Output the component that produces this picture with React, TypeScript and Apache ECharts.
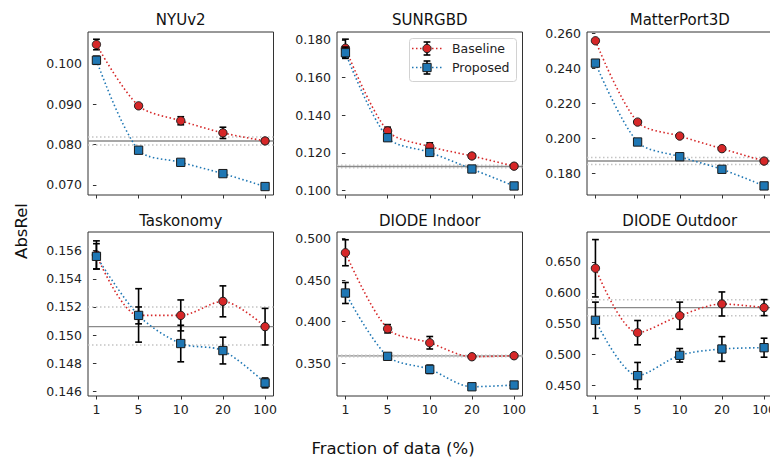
import React, { useEffect, useRef } from "react";
import * as echarts from "echarts";

const FONT = '"DejaVu Sans", sans-serif';

// ---------- data ----------
const fractionLabels = ["1", "5", "10", "20", "100"];
const datasetNames = ["NYUv2", "SUNRGBD", "MatterPort3D", "Taskonomy", "DIODE Indoor", "DIODE Outdoor"];

const nyuBaseline = [0.1048, 0.0896, 0.0859, 0.0829, 0.0809];
const nyuBaselineErr = [0.0013, 0.0005, 0.001, 0.0014, 0.0005];
const nyuProposed = [0.1009, 0.0786, 0.0756, 0.0728, 0.0696];
const nyuProposedErr = [0.001, 0.0004, 0.0004, 0.0004, 0.0004];
const nyuRef = [0.0809, 0.0799, 0.0819]; // mean, low, high
const nyuTicks = [0.07, 0.08, 0.09, 0.1];

const sunBaseline = [0.1756, 0.1317, 0.1234, 0.1184, 0.113];
const sunBaselineErr = [0.0048, 0.002, 0.002, 0.0012, 0.001];
const sunProposed = [0.1732, 0.1281, 0.1203, 0.1115, 0.1025];
const sunProposedErr = [0.003, 0.0015, 0.0015, 0.001, 0.001];
const sunRef = [0.1128, 0.1121, 0.1135];
const sunTicks = [0.1, 0.12, 0.14, 0.16, 0.18];

const mpBaseline = [0.256, 0.2095, 0.2015, 0.1943, 0.1872];
const mpBaselineErr = [0.001, 0.001, 0.001, 0.001, 0.0008];
const mpProposed = [0.2432, 0.1981, 0.1897, 0.1825, 0.173];
const mpProposedErr = [0.001, 0.001, 0.001, 0.001, 0.0008];
const mpRef = [0.1872, 0.1853, 0.1893];
const mpTicks = [0.18, 0.2, 0.22, 0.24, 0.26];

const taskBaseline = [0.1557, 0.1514, 0.1514, 0.1524, 0.1506];
const taskBaselineErr = [0.001, 0.0006, 0.0011, 0.0011, 0.0013];
const taskProposed = [0.1556, 0.1514, 0.1494, 0.1489, 0.1466];
const taskProposedErr = [0.0009, 0.0019, 0.0013, 0.00095, 0.00035];
const taskRef = [0.1506, 0.1493, 0.152];
const taskTicks = [0.146, 0.148, 0.15, 0.152, 0.154, 0.156];

const indoorBaseline = [0.4827, 0.3915, 0.3747, 0.3579, 0.3591];
const indoorBaselineErr = [0.0156, 0.005, 0.0075, 0.002, 0.002];
const indoorProposed = [0.4344, 0.3584, 0.3428, 0.3219, 0.324];
const indoorProposedErr = [0.0126, 0.002, 0.005, 0.002, 0.002];
const indoorRef = [0.3589, 0.358, 0.3598];
const indoorTicks = [0.35, 0.4, 0.45, 0.5];

const outdoorBaseline = [0.6398, 0.5354, 0.5629, 0.5819, 0.576];
const outdoorBaselineErr = [0.0465, 0.0197, 0.022, 0.0195, 0.013];
const outdoorProposed = [0.5554, 0.4657, 0.4987, 0.5089, 0.511];
const outdoorProposedErr = [0.0295, 0.0214, 0.011, 0.02, 0.0154];
const outdoorRef = [0.576, 0.5629, 0.5889];
const outdoorTicks = [0.45, 0.5, 0.55, 0.6, 0.65];

const yRanges = [
  [0.0675, 0.1079],
  [0.0977, 0.1842],
  [0.1678, 0.261],
  [0.14567, 0.15733],
  [0.3108, 0.5076],
  [0.4327, 0.6986],
];

const panels = [
  { base: nyuBaseline, baseErr: nyuBaselineErr, prop: nyuProposed, propErr: nyuProposedErr, ref: nyuRef, ticks: nyuTicks },
  { base: sunBaseline, baseErr: sunBaselineErr, prop: sunProposed, propErr: sunProposedErr, ref: sunRef, ticks: sunTicks },
  { base: mpBaseline, baseErr: mpBaselineErr, prop: mpProposed, propErr: mpProposedErr, ref: mpRef, ticks: mpTicks },
  { base: taskBaseline, baseErr: taskBaselineErr, prop: taskProposed, propErr: taskProposedErr, ref: taskRef, ticks: taskTicks },
  { base: indoorBaseline, baseErr: indoorBaselineErr, prop: indoorProposed, propErr: indoorProposedErr, ref: indoorRef, ticks: indoorTicks },
  { base: outdoorBaseline, baseErr: outdoorBaselineErr, prop: outdoorProposed, propErr: outdoorProposedErr, ref: outdoorRef, ticks: outdoorTicks },
];

// ---------- style / layout ----------
const RED = "#d62728";
const BLUE = "#1f77b4";
const colLeft = [88, 337, 587];
const rowTop = [32, 232];
const rowHeight = [163, 164];
const panelWidth = 185.5;
const DOT = [1.5, 2.5];

function errRender(params: any, api: any) {
  const x = api.value(0);
  const y = api.value(1);
  const e = api.value(2);
  const p1 = api.coord([x, y + e]);
  const p2 = api.coord([x, y - e]);
  const style = { stroke: "#000", lineWidth: 1.6 };
  const c = 3.4;
  return {
    type: "group",
    children: [
      { type: "line", shape: { x1: p1[0], y1: p1[1], x2: p2[0], y2: p2[1] }, style },
      { type: "line", shape: { x1: p1[0] - c, y1: p1[1], x2: p1[0] + c, y2: p1[1] }, style },
      { type: "line", shape: { x1: p2[0] - c, y1: p2[1], x2: p2[0] + c, y2: p2[1] }, style },
    ],
  };
}

function buildOption() {
  const grid: any[] = [];
  const xAxis: any[] = [];
  const yAxis: any[] = [];
  const series: any[] = [];
  const graphic: any[] = [];
  const idx = [0, 1, 2, 3, 4];

  panels.forEach((p, i) => {
    const row = Math.floor(i / 3);
    const col = i % 3;
    const left = colLeft[col];
    const top = rowTop[row];
    grid.push({
      left,
      top,
      width: panelWidth,
      height: rowHeight[row],
      show: true,
      borderColor: "#333",
      borderWidth: 1,
      backgroundColor: "transparent",
      containLabel: false,
      outerBoundsMode: "none",
    });
    xAxis.push({
      type: "value",
      gridIndex: i,
      min: -0.2,
      max: 4.2,
      axisLine: { show: false },
      splitLine: { show: false },
      axisTick: { show: true, customValues: idx, length: 3.5, lineStyle: { color: "#333", width: 1 } },
      axisLabel: {
        show: row === 1,
        customValues: idx,
        formatter: (v: number) => fractionLabels[Math.round(v)],
        fontSize: 12.5,
        fontFamily: FONT,
        color: "#222",
        margin: 7,
      },
    });
    yAxis.push({
      type: "value",
      gridIndex: i,
      min: yRanges[i][0],
      max: yRanges[i][1],
      axisLine: { show: false },
      splitLine: { show: false },
      axisTick: { show: true, customValues: p.ticks, length: 3.5, lineStyle: { color: "#333", width: 1 } },
      axisLabel: {
        customValues: p.ticks,
        formatter: (v: number) => v.toFixed(3),
        fontSize: 12.5,
        fontFamily: FONT,
        color: "#222",
        margin: 6,
      },
    });

    // reference lines
    const refStyles = [
      { color: "#8a8a8a", width: 1.4, type: "solid" },
      { color: "#c4c4c4", width: 1.5, type: DOT },
      { color: "#c4c4c4", width: 1.5, type: DOT },
    ];
    p.ref.forEach((v, k) => {
      series.push({
        type: "line",
        xAxisIndex: i,
        yAxisIndex: i,
        data: [[-0.2, v], [4.2, v]],
        symbol: "none",
        silent: true,
        z: 1,
        lineStyle: refStyles[k],
      });
    });

    const addSeries = (vals: number[], errs: number[], color: string, symbol: string, name: string, z: number) => {
      series.push({
        type: "custom",
        name,
        xAxisIndex: i,
        yAxisIndex: i,
        data: vals.map((v, k) => [k, v, errs[k]]),
        encode: { x: 0, y: 1 },
        renderItem: errRender,
        silent: true,
        z,
      });
      series.push({
        type: "line",
        name,
        xAxisIndex: i,
        yAxisIndex: i,
        data: vals.map((v, k) => [k, v]),
        smooth: 0.3,
        symbol,
        symbolSize: 8.3,
        showSymbol: true,
        silent: true,
        z: z + 1,
        lineStyle: { color, width: 1.6, type: DOT },
        itemStyle: { color, borderColor: "#1a1a1a", borderWidth: 1 },
      });
    };
    addSeries(p.base, p.baseErr, RED, "circle", "Baseline", 3);
    addSeries(p.prop, p.propErr, BLUE, "rect", "Proposed", 5);

    // panel title
    graphic.push({
      type: "text",
      x: left + panelWidth / 2,
      y: row === 0 ? 20 : 221,
      style: {
        text: datasetNames[i],
        fontSize: 15,
        fontFamily: FONT,
        fill: "#111",
        align: "center",
        verticalAlign: "middle",
      },
    });
  });

  // shared axis labels
  graphic.push({
    type: "text",
    x: 393,
    y: 448,
    style: {
      text: "Fraction of data (%)",
      fontSize: 16.5,
      fontFamily: FONT,
      fill: "#111",
      align: "center",
      verticalAlign: "middle",
    },
  });
  graphic.push({
    type: "text",
    x: 21,
    y: 231,
    rotation: Math.PI / 2,
    style: {
      text: "AbsRel",
      fontSize: 16.5,
      fontFamily: FONT,
      fill: "#111",
      align: "center",
      verticalAlign: "middle",
    },
  });

  // legend (in SUNRGBD panel)
  const legendItems = [
    { label: "Baseline", color: RED, shape: "circle", y: 48.5 },
    { label: "Proposed", color: BLUE, shape: "rect", y: 67.5 },
  ];
  const lg: any[] = [
    {
      type: "rect",
      shape: { x: 409.5, y: 38.5, width: 107, height: 43, r: 3 },
      style: { fill: "rgba(255,255,255,0.85)", stroke: "#d2d2d2", lineWidth: 1 },
    },
  ];
  legendItems.forEach((it) => {
    const cx = 427;
    const cy = it.y;
    lg.push({
      type: "line",
      shape: { x1: 412, y1: cy, x2: 442, y2: cy },
      style: { stroke: it.color, lineWidth: 1.6, lineDash: DOT },
    });
    const es = { stroke: "#000", lineWidth: 1.6 };
    lg.push({ type: "line", shape: { x1: cx, y1: cy - 6.5, x2: cx, y2: cy + 6.5 }, style: es });
    lg.push({ type: "line", shape: { x1: cx - 3.4, y1: cy - 6.5, x2: cx + 3.4, y2: cy - 6.5 }, style: es });
    lg.push({ type: "line", shape: { x1: cx - 3.4, y1: cy + 6.5, x2: cx + 3.4, y2: cy + 6.5 }, style: es });
    if (it.shape === "circle") {
      lg.push({
        type: "circle",
        shape: { cx, cy, r: 4.15 },
        style: { fill: it.color, stroke: "#1a1a1a", lineWidth: 1 },
      });
    } else {
      lg.push({
        type: "rect",
        shape: { x: cx - 4.15, y: cy - 4.15, width: 8.3, height: 8.3 },
        style: { fill: it.color, stroke: "#1a1a1a", lineWidth: 1 },
      });
    }
    lg.push({
      type: "text",
      x: 452,
      y: cy,
      style: {
        text: it.label,
        fontSize: 12.5,
        fontFamily: FONT,
        fill: "#222",
        align: "left",
        verticalAlign: "middle",
      },
    });
  });
  graphic.push({ type: "group", z: 100, children: lg });

  return {
    animation: false,
    backgroundColor: "#fff",
    textStyle: { fontFamily: FONT },
    grid,
    xAxis,
    yAxis,
    series,
    graphic,
  };
}

export default function App() {
  const ref = useRef<HTMLDivElement>(null);
  useEffect(() => {
    const chart = echarts.init(ref.current!, null, { renderer: "svg" });
    chart.setOption(buildOption() as any);
    return () => chart.dispose();
  }, []);
  return (
    <div
      ref={ref}
      style={{ position: "absolute", left: 0, top: 0, width: 770, height: 461 }}
    />
  );
}
